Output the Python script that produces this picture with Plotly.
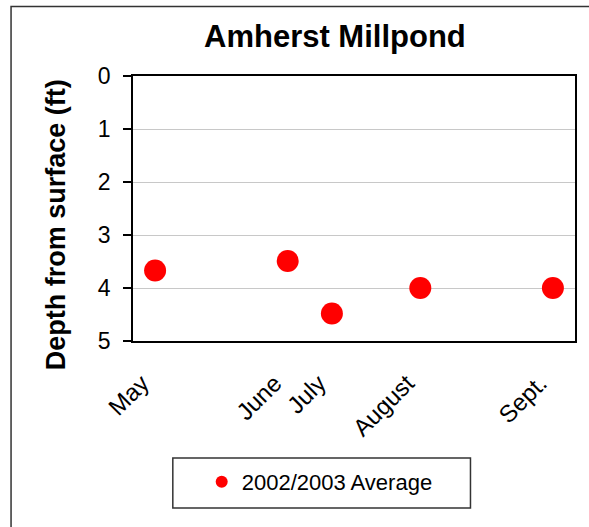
import plotly.graph_objects as go

# Sampling schedule (weeks after the first May sample) and month labels
sample_week = [0, 3, 4, 6, 9]
month_labels = ["May", "June", "July", "August", "Sept."]
# Average Secchi depth, 2002/2003 (ft below surface)
depth_ft = [3.67, 3.49, 4.48, 4.0, 4.0]

depth_ticks = [0, 1, 2, 3, 4, 5]

FONT = "Liberation Sans, Arial, sans-serif"
W, H = 589, 527
L, R, T, B = 133, 12, 76, 186
PW, PH = W - L - R, H - T - B


def px_x(px):
    return (px - L) / PW


def px_y(py):
    return (H - B - py) / PH


fig = go.Figure()
fig.add_trace(go.Scatter(
    x=sample_week,
    y=depth_ft,
    mode="markers",
    name="2002/2003 Average",
    marker=dict(color="#FF0000", size=22, line=dict(width=0)),
))

fig.update_layout(
    width=W,
    height=H,
    margin=dict(l=L, r=R, t=T, b=B),
    paper_bgcolor="white",
    plot_bgcolor="white",
    font=dict(family=FONT, color="black"),
    showlegend=True,
    legend=dict(
        x=px_x(202), y=px_y(482), xanchor="left", yanchor="middle",
        bgcolor="rgba(0,0,0,0)", borderwidth=0,
        font=dict(size=22, family=FONT),
        itemsizing="constant",
    ),
    xaxis=dict(
        range=[-0.5, 9.5],
        tickmode="array",
        tickvals=sample_week,
        ticktext=month_labels,
        tickangle=-45,
        ticks="",
        showgrid=False,
        zeroline=False,
        showline=True,
        linecolor="black",
        linewidth=1.5,
        mirror=True,
        tickfont=dict(size=24, family=FONT),
        ticklabelstandoff=17,
        ticklabelshift=-13,
    ),
    yaxis=dict(
        range=[5, 0],
        tickmode="array",
        tickvals=depth_ticks,
        ticks="outside",
        ticklen=8,
        tickwidth=1.5,
        tickcolor="black",
        showgrid=True,
        gridcolor="#C8C8C8",
        gridwidth=1,
        zeroline=False,
        showline=True,
        linecolor="black",
        linewidth=1.5,
        mirror=True,
        tickfont=dict(size=23, family=FONT),
        ticklabelstandoff=8,
    ),
    shapes=[
        # outer chart frame
        dict(type="rect", xref="paper", yref="paper",
             x0=px_x(10.5), x1=px_x(600), y0=px_y(540), y1=px_y(6.5),
             line=dict(color="#333333", width=1.5), fillcolor="rgba(0,0,0,0)",
             layer="below"),
        # legend frame
        dict(type="rect", xref="paper", yref="paper",
             x0=px_x(173), x1=px_x(472), y0=px_y(508), y1=px_y(458),
             line=dict(color="#333333", width=1.5), fillcolor="rgba(0,0,0,0)"),
    ],
    annotations=[
        dict(text="<b>Amherst Millpond</b>", xref="paper", yref="paper",
             x=px_x(335.5), y=px_y(36), xanchor="center", yanchor="middle",
             showarrow=False, font=dict(size=31, family=FONT)),
        dict(text="<b>Depth from surface (ft)</b>", xref="paper", yref="paper",
             x=px_x(56), y=px_y(225), xanchor="center", yanchor="middle",
             textangle=-90, showarrow=False, font=dict(size=27, family=FONT)),
    ],
)

fig.write_html("out.html")
